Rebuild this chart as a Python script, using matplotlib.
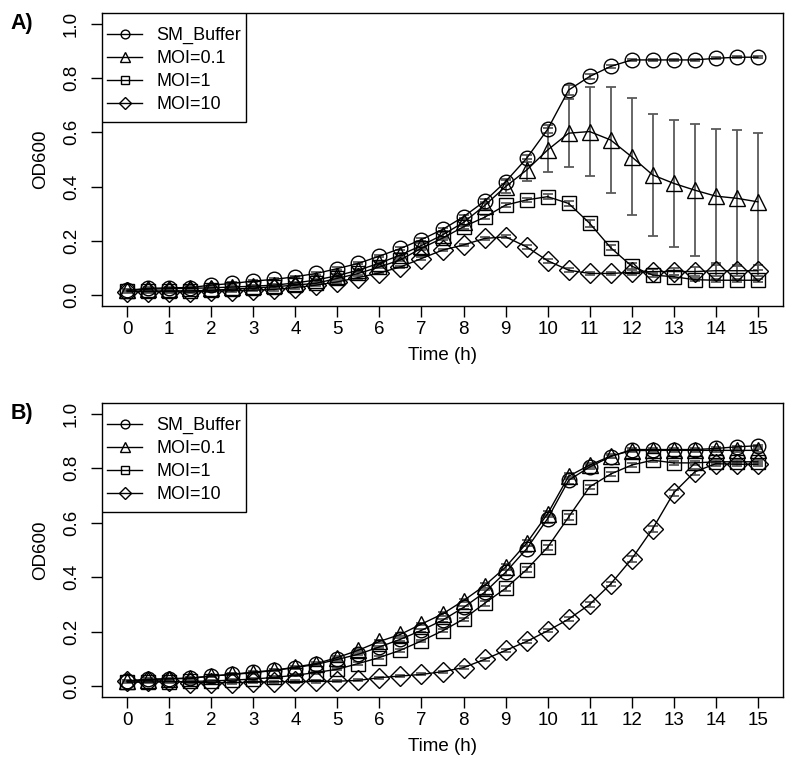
import numpy as np
import matplotlib
matplotlib.use("Agg")
import matplotlib.pyplot as plt
from matplotlib.lines import Line2D
from matplotlib.patches import Rectangle

plt.rcParams['font.family'] = ['Liberation Sans', 'DejaVu Sans']

# time points (h)
time_h = np.arange(0, 15.5, 0.5)

labels = ['SM_Buffer', 'MOI=0.1', 'MOI=1', 'MOI=10']
markers = ['o', '^', 's', 'D']

# panel A
a_buffer = [0.018, 0.025, 0.027, 0.028, 0.037, 0.043, 0.052, 0.058, 0.068, 0.080,
            0.098, 0.117, 0.144, 0.172, 0.205, 0.242, 0.289, 0.346, 0.418, 0.504,
            0.611, 0.756, 0.806, 0.843, 0.867, 0.867, 0.867, 0.867, 0.873, 0.877, 0.877]
a_moi01 = [0.018, 0.022, 0.024, 0.025, 0.027, 0.030, 0.033, 0.037, 0.045, 0.056,
           0.072, 0.092, 0.118, 0.148, 0.183, 0.222, 0.268, 0.330, 0.400, 0.461,
           0.535, 0.597, 0.603, 0.572, 0.510, 0.443, 0.412, 0.387, 0.365, 0.357, 0.344]
a_moi1 = [0.015, 0.015, 0.016, 0.016, 0.018, 0.022, 0.026, 0.031, 0.037, 0.044,
          0.062, 0.080, 0.104, 0.130, 0.173, 0.210, 0.252, 0.287, 0.332, 0.351,
          0.363, 0.338, 0.265, 0.175, 0.107, 0.074, 0.068, 0.057, 0.055, 0.055, 0.055]
a_moi10 = [0.013, 0.013, 0.013, 0.011, 0.015, 0.016, 0.018, 0.021, 0.028, 0.037,
           0.049, 0.065, 0.082, 0.104, 0.135, 0.166, 0.185, 0.209, 0.215, 0.178,
           0.127, 0.092, 0.080, 0.080, 0.084, 0.087, 0.087, 0.087, 0.090, 0.090, 0.090]
a_sd_buffer = [0.004, 0.004, 0.004, 0.004, 0.004, 0.004, 0.004, 0.004, 0.004, 0.004,
               0.004, 0.004, 0.005, 0.005, 0.005, 0.006, 0.006, 0.008, 0.010, 0.012,
               0.015, 0.020, 0.008, 0.006, 0.004, 0.004, 0.004, 0.004, 0.004, 0.004, 0.004]
a_sd_moi01 = [0.004, 0.004, 0.004, 0.004, 0.004, 0.004, 0.004, 0.004, 0.004, 0.004,
              0.005, 0.005, 0.006, 0.006, 0.008, 0.010, 0.012, 0.015, 0.025, 0.040,
              0.080, 0.125, 0.165, 0.195, 0.215, 0.225, 0.235, 0.243, 0.248, 0.250, 0.253]
a_sd_moi1 = [0.004, 0.004, 0.004, 0.004, 0.004, 0.004, 0.004, 0.004, 0.004, 0.004,
             0.004, 0.004, 0.005, 0.005, 0.006, 0.006, 0.008, 0.008, 0.008, 0.008,
             0.010, 0.010, 0.012, 0.010, 0.010, 0.006, 0.006, 0.006, 0.006, 0.006, 0.006]
a_sd_moi10 = [0.004, 0.004, 0.004, 0.004, 0.004, 0.004, 0.004, 0.004, 0.004, 0.004,
              0.004, 0.004, 0.004, 0.004, 0.005, 0.005, 0.005, 0.006, 0.006, 0.008,
              0.008, 0.008, 0.006, 0.006, 0.008, 0.010, 0.012, 0.015, 0.020, 0.020, 0.020]

# panel B
b_buffer = [0.018, 0.025, 0.027, 0.028, 0.037, 0.043, 0.052, 0.058, 0.068, 0.080,
            0.098, 0.117, 0.144, 0.172, 0.205, 0.242, 0.289, 0.344, 0.418, 0.504,
            0.615, 0.756, 0.805, 0.843, 0.869, 0.869, 0.869, 0.869, 0.873, 0.879, 0.883]
b_moi01 = [0.020, 0.024, 0.027, 0.030, 0.037, 0.043, 0.049, 0.058, 0.070, 0.083,
           0.105, 0.132, 0.164, 0.190, 0.228, 0.265, 0.314, 0.369, 0.437, 0.525,
           0.633, 0.771, 0.812, 0.845, 0.865, 0.866, 0.866, 0.866, 0.866, 0.866, 0.866]
b_moi1 = [0.014, 0.015, 0.016, 0.017, 0.019, 0.022, 0.026, 0.032, 0.040, 0.050,
          0.062, 0.083, 0.105, 0.132, 0.166, 0.203, 0.246, 0.304, 0.359, 0.428,
          0.510, 0.621, 0.732, 0.779, 0.812, 0.830, 0.820, 0.820, 0.824, 0.824, 0.824]
b_moi10 = [0.018, 0.020, 0.018, 0.013, 0.013, 0.013, 0.014, 0.016, 0.017, 0.017,
           0.018, 0.021, 0.031, 0.037, 0.043, 0.053, 0.068, 0.098, 0.131, 0.164,
           0.203, 0.246, 0.300, 0.375, 0.467, 0.578, 0.710, 0.787, 0.817, 0.815, 0.815]
b_sd_buffer = [0.004, 0.004, 0.004, 0.004, 0.004, 0.004, 0.004, 0.004, 0.004, 0.004,
               0.004, 0.004, 0.005, 0.005, 0.005, 0.006, 0.006, 0.008, 0.010, 0.012,
               0.015, 0.012, 0.008, 0.006, 0.004, 0.004, 0.004, 0.004, 0.004, 0.004, 0.004]
b_sd_moi01 = [0.004, 0.004, 0.004, 0.004, 0.004, 0.004, 0.004, 0.004, 0.004, 0.004,
              0.004, 0.004, 0.005, 0.005, 0.005, 0.006, 0.006, 0.008, 0.010, 0.010,
              0.012, 0.012, 0.008, 0.006, 0.006, 0.006, 0.006, 0.006, 0.006, 0.006, 0.006]
b_sd_moi1 = [0.004, 0.004, 0.004, 0.004, 0.004, 0.004, 0.004, 0.004, 0.004, 0.004,
             0.004, 0.004, 0.005, 0.005, 0.005, 0.006, 0.006, 0.008, 0.008, 0.008,
             0.010, 0.010, 0.008, 0.008, 0.008, 0.008, 0.008, 0.008, 0.008, 0.008, 0.008]
b_sd_moi10 = [0.004, 0.004, 0.004, 0.004, 0.004, 0.004, 0.004, 0.004, 0.004, 0.004,
              0.004, 0.004, 0.004, 0.004, 0.004, 0.004, 0.005, 0.005, 0.006, 0.006,
              0.006, 0.008, 0.008, 0.008, 0.010, 0.012, 0.012, 0.010, 0.008, 0.008, 0.008]

panels = [
    ('A)', [a_buffer, a_moi01, a_moi1, a_moi10], [a_sd_buffer, a_sd_moi01, a_sd_moi1, a_sd_moi10]),
    ('B)', [b_buffer, b_moi01, b_moi1, b_moi10], [b_sd_buffer, b_sd_moi01, b_sd_moi1, b_sd_moi10]),
]

W, H = 794, 776
fig = plt.figure(figsize=(W / 100, H / 100), dpi=100)

# axes boxes in pixels: left, top, right, bottom
boxes = [(102, 13, 783, 306), (102, 403, 783, 697)]
msizes = {'o': 10.5, '^': 12, 's': 9.5, 'D': 10}
fs = 13.5

for (tag, series, sds), (l, t, r, b) in zip(panels, boxes):
    ax = fig.add_axes([l / W, 1 - b / H, (r - l) / W, (b - t) / H])
    for vals, sd, m in zip(series, sds, markers):
        ax.errorbar(time_h, vals, yerr=sd, fmt='none', ecolor='#5a5a5a',
                    elinewidth=1.3, capsize=3.8, capthick=1.3, zorder=2)
        ax.plot(time_h, vals, color='black', lw=1, marker=m, ms=msizes[m],
                mfc='none', mec='black', mew=1, zorder=3)
    ax.set_xlim(-0.6, 15.6)
    ax.set_ylim(-0.04, 1.04)
    ax.set_xticks(range(0, 16))
    ax.set_yticks([0.0, 0.2, 0.4, 0.6, 0.8, 1.0])
    ax.set_yticklabels(['0.0', '0.2', '0.4', '0.6', '0.8', '1.0'],
                       rotation=90, va='center')
    ax.tick_params(length=8, width=1, labelsize=fs)
    ax.tick_params(axis='x', pad=2.5)
    ax.tick_params(axis='y', pad=8)
    for s in ax.spines.values():
        s.set_linewidth(1)
    ax.set_xlabel('Time (h)', fontsize=fs, labelpad=7)
    ax.set_ylabel('OD600', fontsize=fs, labelpad=10)

    # legend box (R style: square frame in the top left corner)
    aw, ah = r - l, b - t
    ax.add_patch(Rectangle((0, 1 - 109 / ah), 144 / aw, 109 / ah,
                           transform=ax.transAxes, fill=True, fc='white',
                           ec='black', lw=1, zorder=5))
    handles = [Line2D([], [], color='black', lw=1, marker=m, ms=msizes[m] * 0.6,
                      mfc='none', mec='black') for m in markers]
    leg = ax.legend(handles, labels, loc='upper left',
                    bbox_to_anchor=(5 / aw, 1 - 14 / ah),
                    borderaxespad=0, borderpad=0, frameon=False,
                    fontsize=13, handlelength=1.95,
                    handletextpad=0.8, labelspacing=0.33)
    leg.set_zorder(6)

    fig.text(22 / W, 1 - (t + 10) / H, tag, fontsize=15.5, fontweight='bold',
             ha='center', va='center')

fig.savefig('out.png', dpi=100)
